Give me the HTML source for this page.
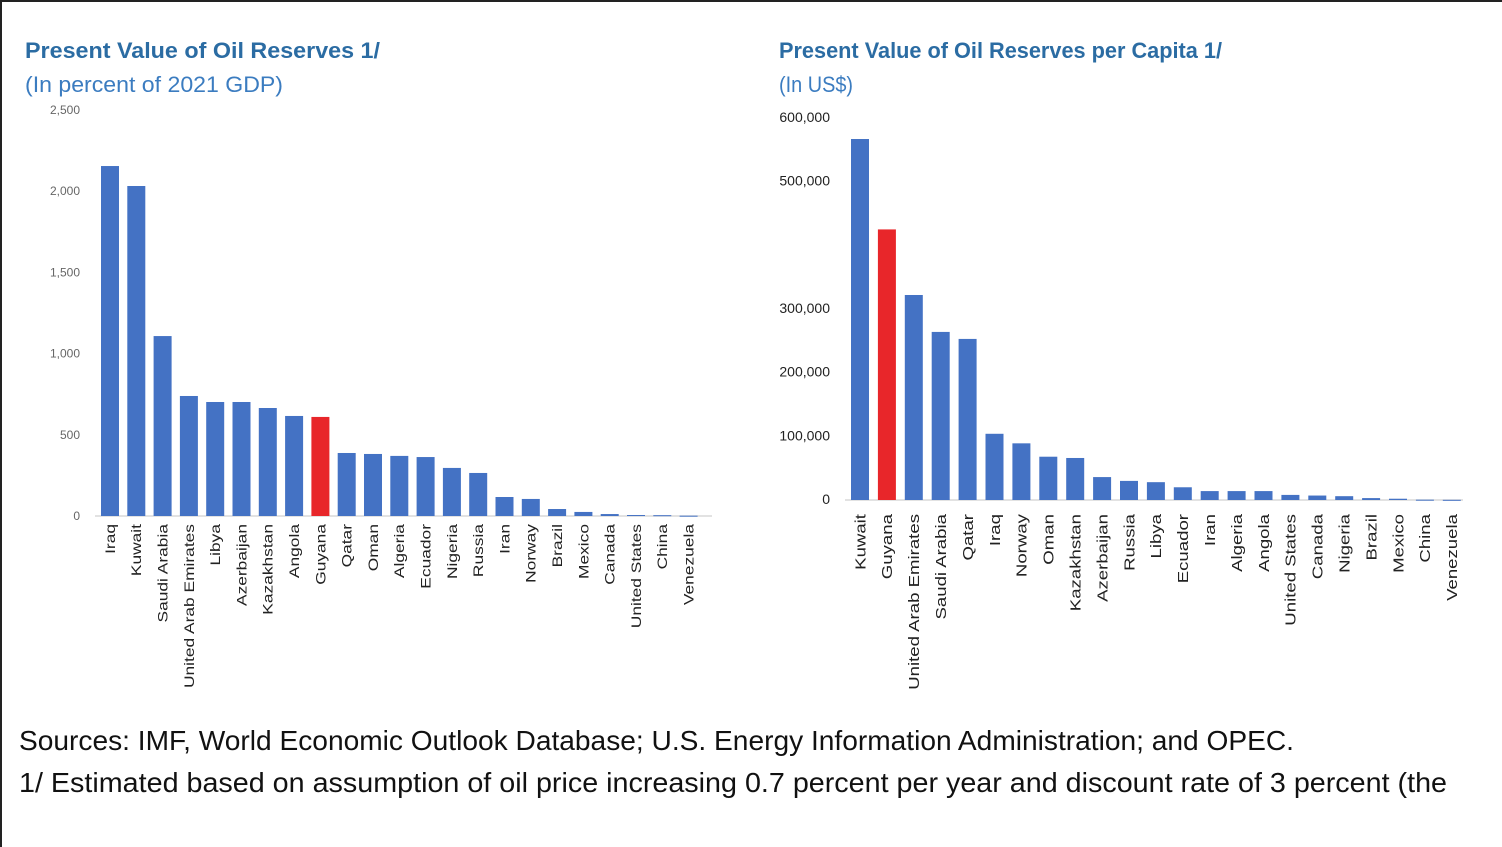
<!DOCTYPE html>
<html><head><meta charset="utf-8"><style>
html,body{margin:0;padding:0;background:#fff}
svg{display:block;font-family:"Liberation Sans",sans-serif}
</style></head><body>
<svg id="c" width="1502" height="847" viewBox="0 0 1502 847">
<rect x="0" y="0" width="1502" height="847" fill="#fff"/>
<rect x="0" y="0" width="2" height="847" fill="#222"/>
<rect x="0" y="0" width="1502" height="2" fill="#222"/>
<text x="25" y="58" font-size="22" font-weight="bold" fill="#2b6ca3" textLength="355" lengthAdjust="spacingAndGlyphs">Present Value of Oil Reserves 1/</text>
<text x="25" y="92" font-size="22" fill="#3b7cc0" textLength="258" lengthAdjust="spacingAndGlyphs">(In percent of 2021 GDP)</text>
<text x="779" y="58" font-size="22" font-weight="bold" fill="#2b6ca3" textLength="443" lengthAdjust="spacingAndGlyphs">Present Value of Oil Reserves per Capita 1/</text>
<text x="779" y="92" font-size="22" fill="#3b7cc0" textLength="74" lengthAdjust="spacingAndGlyphs">(In US$)</text>
<text x="19" y="750" font-size="28" fill="#111" textLength="1275" lengthAdjust="spacingAndGlyphs">Sources: IMF, World Economic Outlook Database; U.S. Energy Information Administration; and OPEC.</text>
<text x="19" y="792" font-size="28" fill="#111" textLength="1428" lengthAdjust="spacingAndGlyphs">1/ Estimated based on assumption of oil price increasing 0.7 percent per year and discount rate of 3 percent (the</text>
<g id="left"></g>
<g id="right"></g>
</svg>
<script>
const leftCategories = ["Iraq","Kuwait","Saudi Arabia","United Arab Emirates","Libya","Azerbaijan","Kazakhstan","Angola","Guyana","Qatar","Oman","Algeria","Ecuador","Nigeria","Russia","Iran","Norway","Brazil","Mexico","Canada","United States","China","Venezuela"];
const leftValues = [2155,2032,1108,739,702,702,665,616,610,388,382,370,363,296,265,117,105,43,25,12,6,5,2];
const leftTicks = [0,500,1000,1500,2000,2500];
const leftTickLabels = ["0","500","1,000","1,500","2,000","2,500"];
const rightCategories = ["Kuwait","Guyana","United Arab Emirates","Saudi Arabia","Qatar","Iraq","Norway","Oman","Kazakhstan","Azerbaijan","Russia","Libya","Ecuador","Iran","Algeria","Angola","United States","Canada","Nigeria","Brazil","Mexico","China","Venezuela"];
const rightValues = [567000,425000,322000,264000,253000,104000,89000,68000,66000,36000,30000,28000,20000,14000,14000,14000,8000,7000,6000,3000,2000,500,300];
const rightTicks = [0,100000,200000,300000,500000,600000];
const rightTickLabels = ["0","100,000","200,000","300,000","500,000","600,000"];

const NS="http://www.w3.org/2000/svg";
function mk(tag,attrs,parent){const e=document.createElementNS(NS,tag);for(const k in attrs)e.setAttribute(k,attrs[k]);parent.appendChild(e);return e;}

function drawChart(g,cats,vals,ticks,tickLabels,cfg){
  const y=v=>cfg.y0-(v-cfg.vmin)/(cfg.vmax-cfg.vmin)*(cfg.y0-cfg.y1);
  const x=i=>cfg.x0+i*cfg.step;
  ticks.forEach((t,i)=>{
    const tl=mk("text",{x:cfg.tickX,y:y(t)+4,"font-size":cfg.tickFs,fill:cfg.tickColor,"text-anchor":"end"},g);
    tl.textContent=tickLabels[i];
    
    
  });
  const ax=mk("line",{x1:cfg.axisX1,x2:cfg.axisX2,y1:cfg.y0,y2:cfg.y0,stroke:"#d9d9d9","stroke-width":1.5},g);
  
  
  cats.forEach((c,i)=>{
    const top=y(vals[i]);
    const r=mk("rect",{x:x(i)-cfg.bw/2,y:top,width:cfg.bw,height:Math.max(cfg.y0-top,1),fill:c==="Guyana"?"#e8262a":"#4472c4"},g);
    
    
    const lx=x(i)+cfg.labFs*0.35, ly=cfg.labY;
    const t=mk("text",{x:lx,y:ly,"font-size":cfg.labFs,fill:"#222","text-anchor":"end",transform:`rotate(-90 ${lx} ${ly})`},g);
    t.textContent=c;
    
    
    const L=t.getComputedTextLength();
    t.setAttribute('textLength',(L*cfg.stretch).toFixed(1));
    t.setAttribute('lengthAdjust','spacingAndGlyphs');
  });
}
drawChart(document.getElementById('left'),leftCategories,leftValues,leftTicks,leftTickLabels,
  {y0:516,y1:110,vmin:0,vmax:2500,x0:110,step:26.3,bw:18,tickX:80,tickFs:12,tickColor:"#666",axisX1:95,axisX2:712,labFs:14,labY:524,stretch:1.24});
drawChart(document.getElementById('right'),rightCategories,rightValues,rightTicks,rightTickLabels,
  {y0:500,y1:118,vmin:0,vmax:600000,x0:860,step:26.9,bw:18,tickX:830,tickFs:14,tickColor:"#222",axisX1:845,axisX2:1463,labFs:15,labY:514,stretch:1.24});
</script>
</body></html>
